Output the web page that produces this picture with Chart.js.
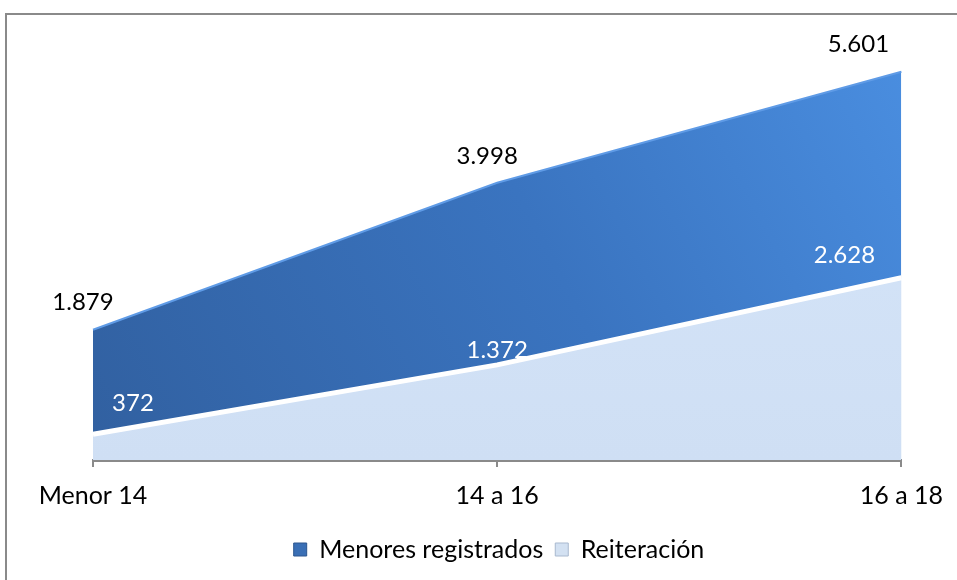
<!DOCTYPE html>
<html>
<head>
<meta charset="utf-8">
<script src="https://cdn.jsdelivr.net/npm/chart.js@4/dist/chart.umd.min.js"></script>
<style>
  html, body { margin: 0; padding: 0; background: #fff; }
  #wrap { position: relative; width: 957px; height: 580px; }
</style>
</head>
<body>
<div id="wrap"><canvas id="chart" width="957" height="580"></canvas></div>
<script>
// Data
const categories = ['Menor 14', '14 a 16', '16 a 18'];
const menores = [1879, 3998, 5601];
const reiteracion = [372, 1372, 2628];
const seriesNames = ['Menores registrados', 'Reiteración'];

const FONT = "Lato, 'Open Sans', sans-serif";

// Spanish number format: 1.879
function fmt(v) {
    return v.toLocaleString('de-DE');
}

// Outer frame like the spreadsheet chart border
const framePlugin = {
    id: 'frame',
    beforeDraw(chart) {
        const ctx = chart.ctx;
        ctx.save();
        ctx.strokeStyle = '#8a8a8a';
        ctx.lineWidth = 2;
        ctx.strokeRect(6, 14, 1000, 1000);
        ctx.restore();
    }
};

// Value labels, nudged like the original
const labelPlugin = {
    id: 'valueLabels',
    afterDatasetsDraw(chart) {
        const ctx = chart.ctx;
        ctx.save();
        ctx.font = '24px ' + FONT;
        ctx.textAlign = 'center';
        ctx.textBaseline = 'middle';
        const last = categories.length - 1;

        // top series: above the line, in black
        chart.getDatasetMeta(0).data.forEach((pt, i) => {
            let dx = -10;
            if (i === last) dx = -43;
            ctx.fillStyle = '#000';
            ctx.fillText(fmt(menores[i]), pt.x + dx, pt.y - 27);
        });

        // bottom series: inside the dark area, in white
        chart.getDatasetMeta(1).data.forEach((pt, i) => {
            let dx = 0, dy = -15;
            if (i === 0) { dx = 40; dy = -31; }
            if (i === last) { dx = -57; dy = -23; }
            ctx.fillStyle = '#fff';
            ctx.fillText(fmt(reiteracion[i]), pt.x + dx, pt.y + dy);
        });
        ctx.restore();
    }
};

const ctx = document.getElementById('chart').getContext('2d');

function darkFill(context) {
    const area = context.chart.chartArea;
    if (!area) return '#3a72bc';
    const g = context.chart.ctx.createLinearGradient(area.left, area.bottom, area.right, area.top);
    g.addColorStop(0, '#3160a0');
    g.addColorStop(0.55, '#3a74c0');
    g.addColorStop(1, '#4a8ee0');
    return g;
}

function lightFill(context) {
    const area = context.chart.chartArea;
    if (!area) return '#d3e3f8';
    const g = context.chart.ctx.createLinearGradient(0, area.top, 0, area.bottom);
    g.addColorStop(0, '#d6e6fa');
    g.addColorStop(1, '#cfdff4');
    return g;
}

new Chart(ctx, {
    type: 'line',
    data: {
        labels: categories,
        datasets: [
            {
                label: seriesNames[0],
                data: menores,
                fill: 'origin',
                backgroundColor: darkFill,
                borderColor: '#5f9be6',
                borderWidth: 2,
                pointRadius: 0,
                tension: 0,
                order: 2
            },
            {
                label: seriesNames[1],
                data: reiteracion,
                fill: 'origin',
                backgroundColor: lightFill,
                borderColor: '#ffffff',
                borderWidth: 5,
                pointRadius: 0,
                tension: 0,
                order: 1
            }
        ]
    },
    options: {
        responsive: false,
        animation: false,
        layout: {
            padding: { left: 93, right: 52, top: 44, bottom: 8 }
        },
        scales: {
            x: {
                offset: false,
                grid: {
                    display: true,
                    drawOnChartArea: false,
                    drawTicks: true,
                    tickLength: 7,
                    color: '#8a8a8a',
                    lineWidth: 2
                },
                border: { display: true, color: '#8a8a8a', width: 3 },
                ticks: {
                    color: '#000',
                    font: { family: FONT, size: 25 },
                    padding: 14,
                    maxRotation: 0
                }
            },
            y: {
                display: false,
                min: 0,
                max: 6000
            }
        },
        plugins: {
            legend: {
                position: 'bottom',
                labels: {
                    color: '#000',
                    font: { family: FONT, size: 25 },
                    boxWidth: 13,
                    boxHeight: 13,
                    padding: 12,
                    generateLabels(chart) {
                        return seriesNames.map((name, i) => ({
                            text: name,
                            fillStyle: i === 0 ? '#3a6fb5' : '#d3e1f2',
                            strokeStyle: i === 0 ? '#2c578f' : '#a9b9cf',
                            lineWidth: 1,
                            datasetIndex: i
                        }));
                    }
                }
            },
            tooltip: { enabled: false }
        }
    },
    plugins: [framePlugin, labelPlugin]
});
</script>
</body>
</html>
